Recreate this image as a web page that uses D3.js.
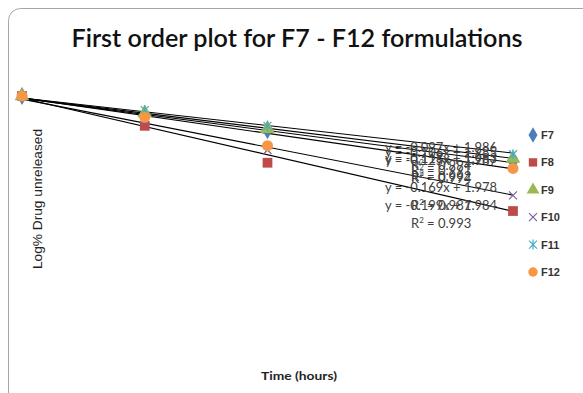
<!DOCTYPE html>
<html>
<head>
<meta charset="utf-8">
<script src="https://cdn.jsdelivr.net/npm/d3@7"></script>
<style>
  body { margin: 0; background: #fff; }
  svg { display: block; }
</style>
</head>
<body>
<div id="chart"></div>
<script>
var hours = [0, 1, 2, 4];
var names = ["F7", "F8", "F9", "F10", "F11", "F12"];
var F7  = [2, 1.87, 1.76, 1.54];
var F8  = [2, 1.79, 1.53, 1.19];
var F9  = [2, 1.88, 1.77, 1.56];
var F10 = [2, 1.82, 1.62, 1.30];
var F11 = [2, 1.90, 1.79, 1.59];
var F12 = [2, 1.85, 1.65, 1.49];
var slopes     = [-0.113, -0.199, -0.106, -0.169, -0.097, -0.125];
var intercepts = [1.983, 1.984, 1.985, 1.978, 1.986, 1.987];
var rsq        = ["0.992", "0.993", "0.991", "0.987", "0.994", "0.994"];

var colors  = ["#4a7ebb", "#be4b48", "#98b954", "#7d60a0", "#46aac5", "#f79646"];
var symbols = ["diamond", "square", "triangle", "cross", "star", "circle"];
var series  = [F7, F8, F9, F10, F11, F12];
// where the trendline labels sit (y of the first line)
var labelY  = [159, 206, 153, 188, 148, 161];

var W = 583, H = 393;
var svg = d3.select("#chart").append("svg")
    .attr("width", W).attr("height", H);

/* chart border */
svg.append("rect")
  .attr("x", 8.5).attr("y", 8.5)
  .attr("width", 620).attr("height", 420)
  .attr("rx", 12)
  .style("fill", "none")
  .style("stroke", "#a6a6a6");

var x = d3.scaleLinear().domain([0, 4]).range([22, 513]),
    y = d3.scaleLinear().domain([1, 2]).range([238, 96]);

/* title */
svg.append("text")
  .attr("x", 297).attr("y", 47)
  .attr("text-anchor", "middle")
  .attr("textLength", 451)
  .attr("lengthAdjust", "spacingAndGlyphs")
  .style("font", "600 24px Lato")
  .style("fill", "#111")
  .text("First order plot for F7 - F12 formulations");

/* axis labels */
svg.append("text")
  .attr("transform", "translate(42,199) rotate(270)")
  .attr("text-anchor", "middle")
  .attr("textLength", 140)
  .attr("lengthAdjust", "spacingAndGlyphs")
  .style("font", "12px 'Liberation Sans'")
  .style("fill", "#222")
  .text("Log% Drug unreleased");

svg.append("text")
  .attr("x", 299).attr("y", 380)
  .attr("text-anchor", "middle")
  .attr("textLength", 76)
  .attr("lengthAdjust", "spacingAndGlyphs")
  .style("font", "bold 12px Lato")
  .style("fill", "#222")
  .text("Time (hours)");

/* trend lines */
series.forEach(function(s, i) {
  svg.append("line")
    .attr("x1", x(0)).attr("y1", y(intercepts[i]))
    .attr("x2", x(4)).attr("y2", y(intercepts[i] + slopes[i] * 4))
    .style("stroke", "#000")
    .style("stroke-width", 1.1);
});

function marker(g, i, size) {
  var c = colors[i];
  if (symbols[i] == "cross") {
    g.append("path").attr("d", "M-4,-4L4,4M-4,4L4,-4")
      .style("stroke", c).style("stroke-width", 1.2).style("fill", "none");
  } else if (symbols[i] == "star") {
    g.append("path").attr("d", "M-4,-4L4,4M-4,4L4,-4M0,-5L0,5")
      .style("stroke", c).style("stroke-width", 1.2).style("fill", "none");
  } else {
    var t = {diamond: d3.symbolDiamond, square: d3.symbolSquare,
             triangle: d3.symbolTriangle, circle: d3.symbolCircle}[symbols[i]];
    g.append("path").attr("d", d3.symbol().type(t).size(size)())
      .style("fill", c);
  }
}

/* points */
series.forEach(function(s, i) {
  s.forEach(function(v, j) {
    var g = svg.append("g")
      .attr("transform", "translate(" + x(hours[j]) + "," + y(v) + ")");
    marker(g, i, 95);
  });
});

/* trendline labels */
series.forEach(function(s, i) {
  var sign = intercepts[i] < 0 ? " - " : " + ";
  svg.append("text")
    .attr("x", 385).attr("y", labelY[i] + 4)
    .attr("textLength", 112)
    .attr("lengthAdjust", "spacingAndGlyphs")
    .style("font", "13px Lato")
    .style("fill", "#404040")
    .text("y = " + slopes[i].toFixed(3) + "x" + sign + intercepts[i].toFixed(3));
  var r = svg.append("text")
    .attr("x", 411).attr("y", labelY[i] + 22)
    .style("font", "13px Lato")
    .style("fill", "#404040");
  r.append("tspan").text("R");
  r.append("tspan").attr("dy", -5).style("font-size", "8px").text("2");
  r.append("tspan").attr("dy", 5).text(" = " + rsq[i]);
});

/* legend */
names.forEach(function(n, i) {
  var ly = 135 + i * 27.4;
  var g = svg.append("g").attr("transform", "translate(533," + ly + ")");
  marker(g, i, 70);
  svg.append("text")
    .attr("x", 541).attr("y", ly + 4)
    .style("font", "bold 11px 'Liberation Sans'")
    .style("fill", "#333")
    .text(n);
});
</script>
</body>
</html>
